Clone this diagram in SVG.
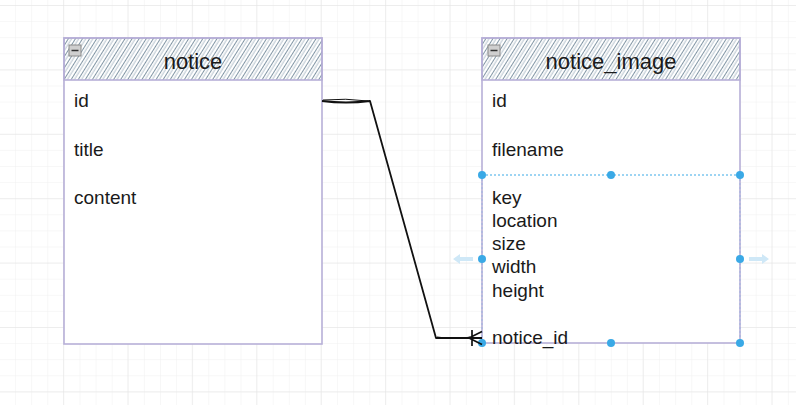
<svg xmlns="http://www.w3.org/2000/svg" width="796" height="405" viewBox="0 0 796 405">
<defs>
<pattern id="minor" x="-1" y="5" width="16.1" height="16.1" patternUnits="userSpaceOnUse">
<path d="M0 0H16.1M0 0V16.1" fill="none" stroke="#f0f0f0" stroke-width="1"/>
</pattern>
<pattern id="major" x="63" y="5" width="64.4" height="64.4" patternUnits="userSpaceOnUse">
<path d="M0 0H64.4M0 0V64.4" fill="none" stroke="#e4e4e4" stroke-width="1"/>
</pattern>
<pattern id="hach" width="6" height="9" patternUnits="userSpaceOnUse" patternTransform="rotate(32)">
<line x1="0" y1="0" x2="0" y2="9" stroke="#587387" stroke-width="1.5"/>
<line x1="3.2" y1="0" x2="3.2" y2="9" stroke="#9fb1bf" stroke-width="0.8"/>
</pattern>
<marker id="many" markerUnits="userSpaceOnUse" markerWidth="24" markerHeight="24" refX="16" refY="12" orient="auto" viewBox="0 0 24 24">
<path d="M16 5.5 L3 12 L16 18.5 M3 12 L16 12 M6 4 L6 20" fill="none" stroke="#111" stroke-width="1.7"/>
</marker>
</defs>
<style>
.box{fill:#fff;stroke:#b7b0d8;stroke-width:1.6}
.hdr{fill:url(#hach);stroke:#b7b0d8;stroke-width:1.6}
.title{font-family:"Liberation Sans",Arial,sans-serif;font-size:22px;fill:#1a1a1a;text-anchor:middle}
.fld{font-family:"Liberation Sans",Arial,sans-serif;font-size:19px;fill:#1a1a1a}
.ico{fill:#cfcfcf;stroke:#8a8a8a;stroke-width:1}
.h{fill:#3aa9e6}
.conn{fill:none;stroke:#111;stroke-width:1.8;stroke-linejoin:round}
</style>
<rect width="796" height="405" fill="#fff"/>
<rect width="796" height="405" fill="url(#minor)"/>
<rect width="796" height="405" fill="url(#major)"/>

<g id="notice">
<rect class="box" x="64" y="38" width="258" height="306"/>
<rect class="hdr" x="64" y="38" width="258" height="42"/>
<rect class="ico" x="69" y="45" width="12" height="11"/>
<line x1="71.5" y1="50.5" x2="78.5" y2="50.5" stroke="#333" stroke-width="1.5"/>
<text class="title" x="193" y="69">notice</text>
<text class="fld" x="74" y="107">id</text>
<text class="fld" x="74" y="156">title</text>
<text class="fld" x="74" y="204">content</text>
</g>

<g id="notice_image">
<rect class="box" x="482" y="38" width="258" height="305"/>
<rect class="hdr" x="482" y="38" width="258" height="42"/>
<rect class="ico" x="488" y="45" width="12" height="11"/>
<line x1="490.5" y1="50.5" x2="497.5" y2="50.5" stroke="#333" stroke-width="1.5"/>
<text class="title" x="611" y="69">notice_image</text>
<text class="fld" x="492" y="107">id</text>
<text class="fld" x="492" y="156">filename</text>
<text class="fld" x="492" y="204">key</text>
<text class="fld" x="492" y="227">location</text>
<text class="fld" x="492" y="250">size</text>
<text class="fld" x="492" y="273">width</text>
<text class="fld" x="492" y="297">height</text>
<text class="fld" x="492" y="344">notice_id</text>
</g>

<g id="selection">
<line x1="482" y1="175" x2="740" y2="175" stroke="#3aa9e6" stroke-width="1" stroke-dasharray="2 2"/>
<line x1="482" y1="175" x2="482" y2="343" stroke="#9fb4e0" stroke-width="1" stroke-dasharray="2 2"/>
<line x1="740" y1="175" x2="740" y2="343" stroke="#9fb4e0" stroke-width="1" stroke-dasharray="2 2"/>
<circle class="h" cx="482" cy="175" r="4"/>
<circle class="h" cx="611" cy="175" r="4"/>
<circle class="h" cx="740" cy="175" r="4"/>
<circle class="h" cx="482" cy="259" r="4"/>
<circle class="h" cx="740" cy="259" r="4"/>
<circle class="h" cx="482" cy="343" r="4"/>
<circle class="h" cx="611" cy="343" r="4"/>
<circle class="h" cx="740" cy="343" r="4"/>
<path d="M453 259 L460 254 L460 257 L473 257 L473 261 L460 261 L460 264 Z" fill="#cfe8f7"/>
<path d="M769 259 L762 254 L762 257 L749 257 L749 261 L762 261 L762 264 Z" fill="#cfe8f7"/>
</g>

<g id="connectors">
<path class="conn" d="M322 101 Q346 104 370 101 L436 338 L482 338" marker-end="url(#many)"/>
<path d="M323 100 Q346 98 368 101 M437 337 Q458 340 470 337" fill="none" stroke="#111" stroke-width="1"/>
</g>
</svg>
